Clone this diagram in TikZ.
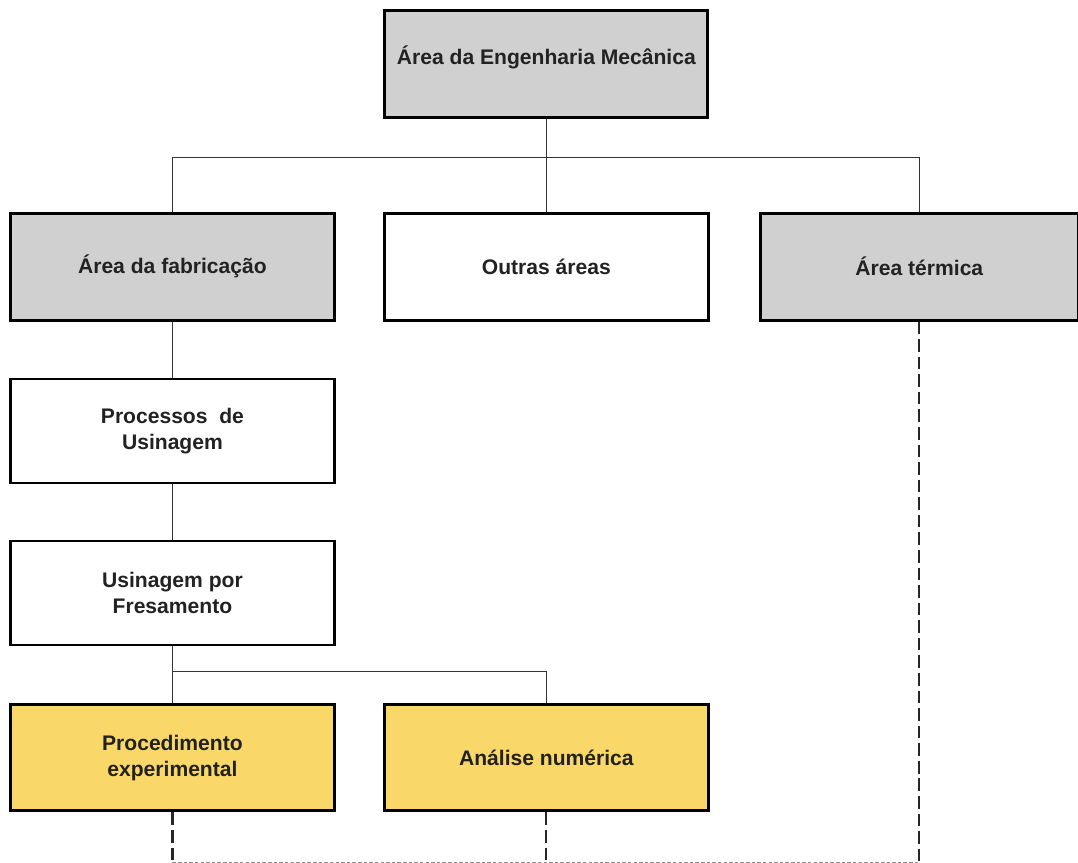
\documentclass[tikz,border=0pt]{standalone}
\usepackage{fontspec}
\setmainfont{Liberation Sans}
\usetikzlibrary{positioning}
\definecolor{boxgray}{HTML}{D0D0D0}
\definecolor{boxyellow}{HTML}{F9D869}
\definecolor{inkgray}{HTML}{222222}
\tikzset{
  areabox/.style={rectangle, minimum width=8.1cm, minimum height=2.675cm, text centered, align=center, draw=black, line width=2.1pt, text=inkgray, font=\bfseries\fontsize{15}{18.4}\selectfont},
  graybox/.style={areabox, fill=boxgray},
  whitebox/.style={areabox, fill=white},
  yellowbox/.style={areabox, fill=boxyellow},
  link/.style={line width=1pt, draw=black!80},
  dashlink/.style={line width=1.5pt, draw=black!85, dash pattern=on 9pt off 3.5pt}
}
\begin{document}
\begin{tikzpicture}[node distance=1.45cm]
                \useasboundingbox (0,0) rectangle (26.95,-21.575);
                \node (mec) [graybox, minimum width=8.075cm, text depth=0.42cm] at (13.66,-1.59) {Área da Engenharia Mecânica};
                
                % segunda linha: as tres areas
                \node (outras) [whitebox, below=2.325cm of mec] {Outras áreas};
                \node (fab) [graybox, left=1.225cm of outras, xshift=0.05cm] {Área da fabricação};
                \node (term) [graybox, right=1.225cm of outras, minimum width=7.95cm] {Área térmica};
                
                \node (proc) [whitebox, below=1.4cm of fab, minimum height=2.6cm] {Processos~ de\\Usinagem};
                \node (fres) [whitebox, below of=proc, yshift=-2.6cm, minimum height=2.6cm] {Usinagem por\\Fresamento};
                
                % caixas amarelas do trabalho
                \node (exp) [yellowbox, below=1.425cm of fres, minimum height=2.65cm] {Procedimento\\experimental};
                \node (num) [yellowbox, right=1.175cm of exp, minimum height=2.65cm] {Análise numérica};
                
                \draw [link] (mec) -- (outras);
                \draw [link] (fab.north) -- ++(0,1.35) -| (term.north);
                \draw [link] (fab) -- (proc);
                \draw [link] (proc) -- (fres);
                \draw [link] (fres) -- (exp);
                \draw [link] (exp.north) -- ++(0,0.8) -| (num.north);
                
                % ligacoes tracejadas no fundo
                \draw [dashlink] (exp.south) -- ++(0,-1.25) coordinate (b1);
                \draw [dashlink] (num.south) -- (num.south |- b1);
                \draw [dashlink] (term.south) -- ++(0,-13.7);
                \draw [dashlink, draw=black!45, line width=0.9pt, dash pattern=on 2.5pt off 1.5pt] (b1) -- (b1 -| term.south);
            \end{tikzpicture}
\end{document}
